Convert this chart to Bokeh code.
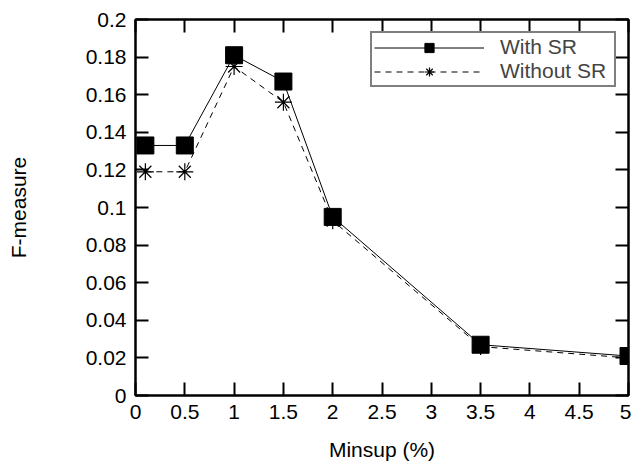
from bokeh.plotting import figure
from bokeh.models import LinearAxis, Range1d, Legend, LegendItem, FixedTicker
from bokeh.embed import file_html
from bokeh.resources import INLINE

minsup = [0.1, 0.5, 1.0, 1.5, 2.0, 3.5, 5.0]
with_sr = [0.133, 0.133, 0.181, 0.167, 0.095, 0.027, 0.021]
without_sr = [0.119, 0.119, 0.175, 0.156, 0.093, 0.026, 0.020]
x_ticks = [0, 0.5, 1, 1.5, 2, 2.5, 3, 3.5, 4, 4.5, 5]
y_ticks = [0, 0.02, 0.04, 0.06, 0.08, 0.1, 0.12, 0.14, 0.16, 0.18, 0.2]

FONT = "Liberation Sans"
FS = "21px"

p = figure(width=631, height=468, output_backend="svg", toolbar_location=None,
           x_range=Range1d(0, 5), y_range=Range1d(0, 0.2),
           min_border_left=135, min_border_right=3, min_border_top=19, min_border_bottom=73)
p.xgrid.visible = False
p.ygrid.visible = False
p.outline_line_color = "black"
p.outline_line_width = 2

def style(ax, show_labels):
    ax.axis_line_width = 2
    ax.major_tick_line_width = 2
    ax.major_tick_in = 13
    ax.major_tick_out = 0
    ax.minor_tick_in = 0
    ax.minor_tick_out = 0
    ax.major_label_text_font = FONT
    ax.major_label_text_font_size = FS
    ax.major_label_text_color = "black"
    ax.axis_label_text_font = FONT
    ax.axis_label_text_font_size = FS
    ax.axis_label_text_font_style = "normal"
    ax.axis_label_text_color = "black"
    if not show_labels:
        ax.major_label_text_alpha = 0
        ax.major_label_text_font_size = "1px"
        ax.major_label_standoff = 0

xa = p.xaxis[0]
xa.ticker = FixedTicker(ticks=x_ticks)
xa.axis_label = "Minsup (%)"
style(xa, True)
xa.major_label_standoff = 9
xa.axis_label_standoff = 16
xa.major_label_overrides = {0: "0", 1: "1", 2: "2", 3: "3", 4: "4", 5: "5"}

ya = p.yaxis[0]
ya.ticker = FixedTicker(ticks=y_ticks)
ya.axis_label = "F-measure"
style(ya, True)
ya.major_label_standoff = 9
ya.axis_label_standoff = 53
ya.major_label_overrides = {0: "0", 0.1: "0.1", 0.2: "0.2"}

top = LinearAxis(ticker=FixedTicker(ticks=x_ticks))
style(top, False)
p.add_layout(top, "above")
right = LinearAxis(ticker=FixedTicker(ticks=y_ticks))
style(right, False)
p.add_layout(right, "right")

l1 = p.line(minsup, with_sr, line_color="black", line_width=1)
m1 = p.scatter(minsup, with_sr, marker="square", size=17, fill_color="black", line_color="black")
l2 = p.line(minsup, without_sr, line_color="black", line_width=1, line_dash="6 5")
m2 = p.scatter(minsup, without_sr, marker="asterisk", size=17, line_color="black", line_width=1.2)

legend = Legend(items=[LegendItem(label="With SR", renderers=[l1, m1]),
                       LegendItem(label="Without SR", renderers=[l2, m2])],
                location="top_right", border_line_color="black", border_line_width=2,
                label_text_font=FONT, label_text_font_size=FS,
                glyph_width=110, glyph_height=23, label_height=23, label_width=112,
                spacing=0, padding=2, margin=12, label_standoff=16,
                background_fill_alpha=1)
p.add_layout(legend)

open("out.html", "w").write(file_html(p, INLINE))
